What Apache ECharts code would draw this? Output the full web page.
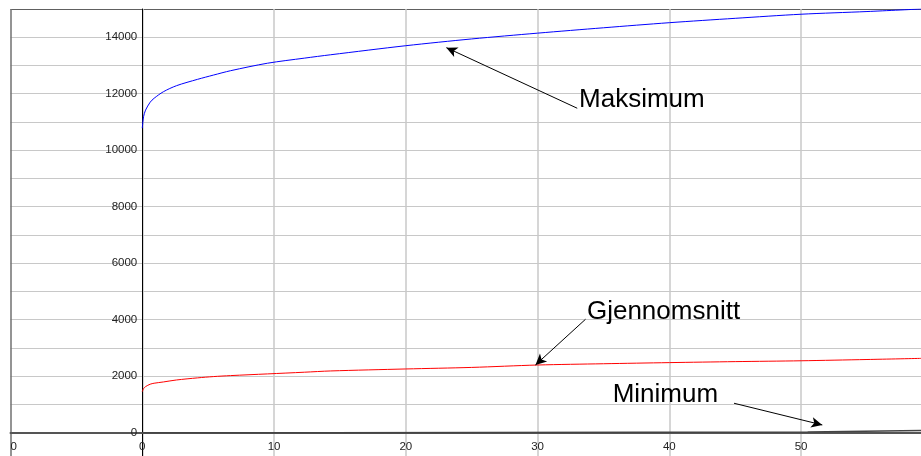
<!DOCTYPE html>
<html>
<head>
<meta charset="utf-8">
<script src="https://cdn.jsdelivr.net/npm/echarts@6/dist/echarts.min.js"></script>
<style>
html,body{margin:0;padding:0;background:#fff;}
#chart{width:921px;height:456px;}
</style>
</head>
<body>
<div id="chart"></div>
<script>
// ---- data ----
const xValues   = [0, 0.1, 0.25, 0.6, 0.9, 1.6, 2.6, 4.2, 5.4, 6.7, 9.5, 12.3, 14.3, 20, 25, 30, 35, 40, 45, 50, 55, 59.1];
const maksimum  = [10780, 11190, 11420, 11700, 11840, 12070, 12285, 12510, 12660, 12815, 13080, 13260, 13380, 13700, 13940, 14145, 14335, 14515, 14670, 14815, 14910, 15000];
const gjennomsnitt = [1450, 1560, 1630, 1715, 1750, 1795, 1865, 1940, 1985, 2020, 2080, 2140, 2185, 2255, 2310, 2395, 2440, 2480, 2515, 2545, 2590, 2630];
const minX      = [0, 14, 50.5, 59.1];
const minimum   = [0, 25, 80, 80];
const xTickValues = [-10, 0, 10, 20, 30, 40, 50];
const xTickLabels = ['0', '0', '10', '20', '30', '40', '50'];
const yTickLabels = ['0', '2000', '4000', '6000', '8000', '10000', '12000', '14000'];

// annotations (data coordinates)
const annotTexts  = ['Maksimum', 'Gjennomsnitt', 'Minimum'];
const annotAnchor = [[33.11, 11780], [33.71, 4284], [35.66, 1335]];
const arrowFrom   = [[33.01, 11486], [33.64, 4015], [44.91, 1041]];
const arrowTo     = [[23.08, 13632], [29.84, 2397], [51.61, 273]];

const FONT = '"Liberation Sans", Arial, sans-serif';
const light = '#c8c8c8';
const hColors = [];
for (let i = 0; i < 16; i++) hColors.push(light);
hColors.push('#606060');
const vColors = ['#707070', light, light, light, light, light, light];

const W = 921, H = 456;
const G = {left: 10.5, right: 0, top: 9, bottom: -4.9};
const X_MIN = -10, X_MAX = 59.1, Y_MIN = -1000, Y_MAX = 15000;
// place axes at zero of the other axis
const gridW = W - G.left - G.right, gridH = H - G.top - G.bottom;
const yAxisOffset = -((0 - X_MIN) / (X_MAX - X_MIN)) * gridW;
const xAxisOffset = -((0 - Y_MIN) / (Y_MAX - Y_MIN)) * gridH;

const chart = echarts.init(document.getElementById('chart'), null, {renderer: 'canvas'});
chart.setOption({
  animation: false,
  backgroundColor: '#fff',
  grid: Object.assign({containLabel: false, outerBoundsMode: 'none'}, G),
  xAxis: {
    type: 'value', min: X_MIN, max: X_MAX, interval: 10,
    position: 'bottom', offset: xAxisOffset,
    axisLine: {onZero: false, lineStyle: {color: '#555', width: 2}},
    axisTick: {show: false},
    axisLabel: {
      color: '#222', fontFamily: FONT, fontSize: 11.5, margin: 8,
      showMaxLabel: false, alignMinLabel: 'left',
      formatter: function (v) {
        const i = xTickValues.indexOf(Math.round(v));
        return i >= 0 ? xTickLabels[i] : '';
      }
    },
    splitLine: {show: true, showMaxLine: false, lineStyle: {color: vColors, width: 1.5}}
  },
  yAxis: {
    type: 'value', min: Y_MIN, max: Y_MAX, interval: 1000,
    position: 'left', offset: yAxisOffset,
    axisLine: {onZero: false, lineStyle: {color: '#000', width: 1}},
    axisTick: {show: false},
    axisLabel: {
      color: '#222', fontFamily: FONT, fontSize: 11.5, margin: 5,
      formatter: function (v) {
        const s = String(Math.round(v));
        return yTickLabels.indexOf(s) >= 0 ? s : '';
      }
    },
    splitLine: {show: true, lineStyle: {color: hColors, width: 1.2}}
  },
  series: [
    {
      name: 'Minimum', type: 'line', step: 'end', symbol: 'none',
      data: minX.map((x, i) => [x, minimum[i]]),
      lineStyle: {color: '#444', width: 1.5}, z: 3
    },
    {
      name: 'Gjennomsnitt', type: 'line', symbol: 'none', smooth: 0.3,
      data: xValues.map((x, i) => [x, gjennomsnitt[i]]),
      lineStyle: {color: '#ff0000', width: 1}, z: 3
    },
    {
      name: 'Maksimum', type: 'line', symbol: 'none', smooth: 0.3,
      data: xValues.map((x, i) => [x, maksimum[i]]),
      lineStyle: {color: '#0000ff', width: 1}, z: 3,
      markLine: {
        silent: true, animation: false,
        symbol: ['none', 'arrow'], symbolSize: [8, 11],
        lineStyle: {color: '#000', width: 1, type: 'solid'},
        label: {show: false},
        data: arrowFrom.map((p, i) => [{coord: p}, {coord: arrowTo[i]}])
      },
      markPoint: {
        silent: true, animation: false,
        symbol: 'circle', symbolSize: 1, itemStyle: {color: 'rgba(0,0,0,0)'},
        label: {show: true, position: 'right', distance: 0, color: '#000', fontFamily: FONT, fontSize: 26,
          formatter: function (p) { return p.name; }},
        data: annotTexts.map((t, i) => ({name: t, coord: annotAnchor[i]}))
      }
    }
  ]
});
</script>
</body>
</html>
